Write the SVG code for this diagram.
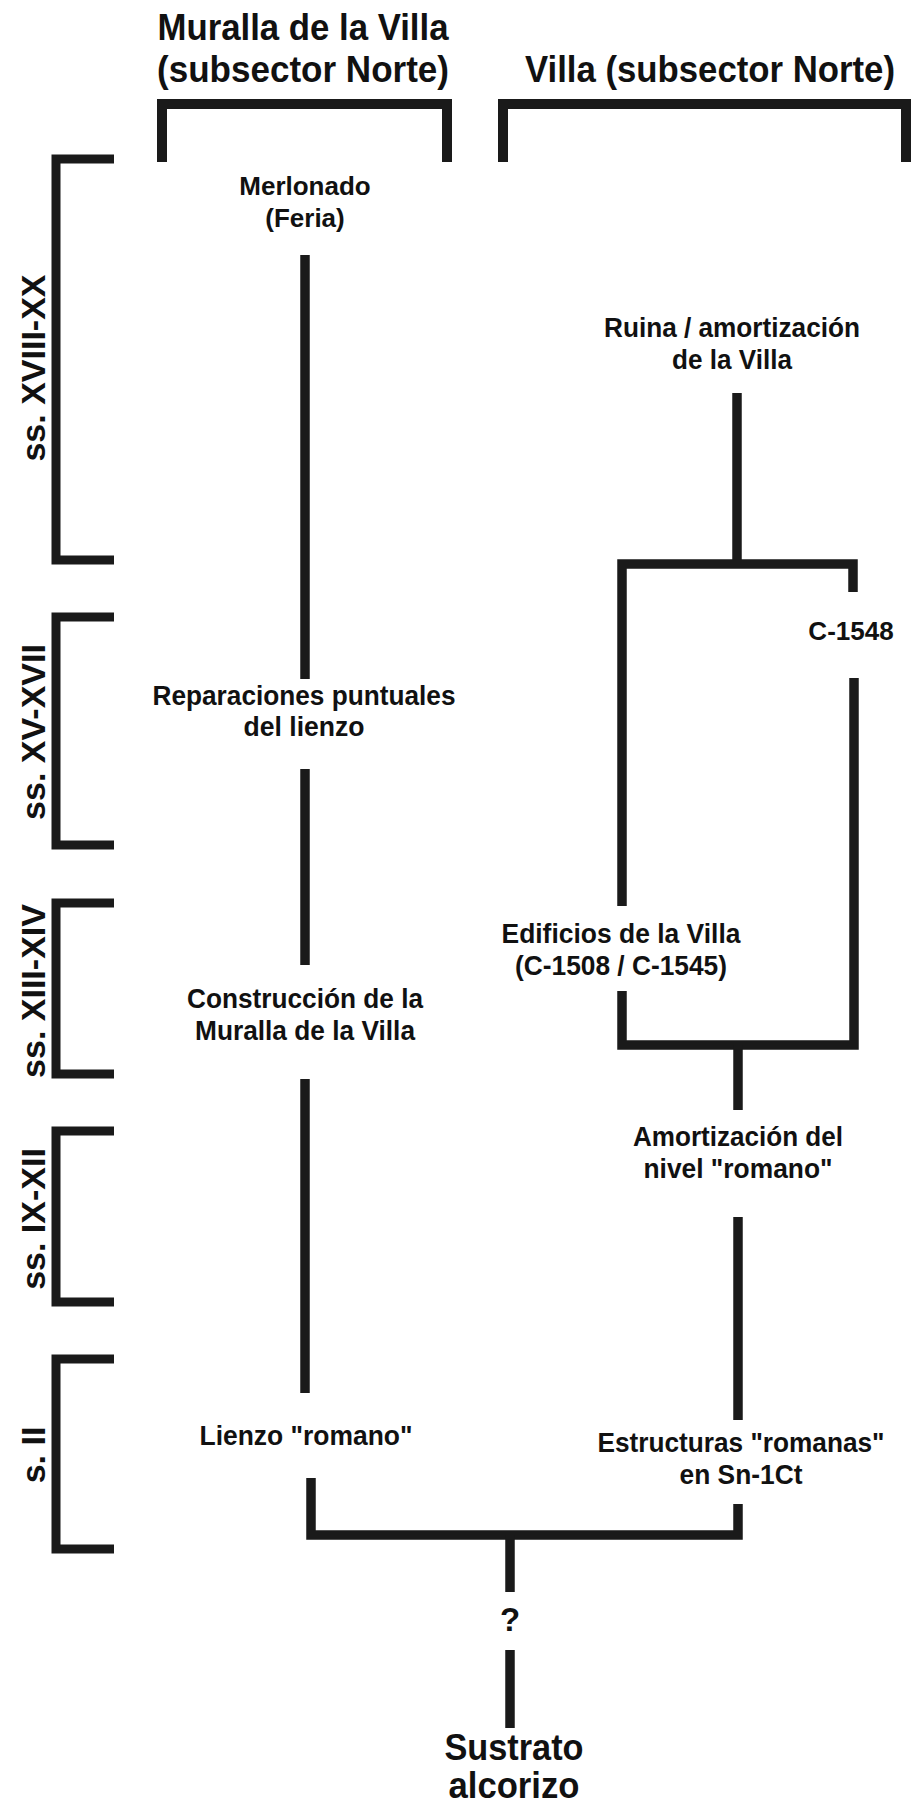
<svg xmlns="http://www.w3.org/2000/svg" width="911" height="1807" viewBox="0 0 911 1807">
<style>
text{font-family:"Liberation Sans",Arial,Helvetica,sans-serif;font-weight:bold;fill:#111;text-anchor:middle}
.t{font-size:36.5px}
.l{font-size:27.5px}
.s{font-size:26px}
.p{font-size:34px}
.big{font-size:36px}
.c{fill:none;stroke:#1a1a1a;stroke-width:9.5;stroke-linejoin:miter;stroke-linecap:butt}
.b{fill:none;stroke:#1a1a1a;stroke-width:10;stroke-linejoin:miter;stroke-linecap:butt}
.pb{fill:none;stroke:#1a1a1a;stroke-width:9;stroke-linejoin:miter;stroke-linecap:butt}
</style>
<rect width="911" height="1807" fill="#fff"/>

<g id="header-muralla">
<text class="t" x="303" y="40" textLength="291" lengthAdjust="spacingAndGlyphs">Muralla de la Villa</text>
<text class="t" x="303" y="82" textLength="292" lengthAdjust="spacingAndGlyphs">(subsector Norte)</text>
<path class="b" d="M162,162 V104 H447 V162"/>
</g>
<g id="header-villa">
<text class="t" x="710" y="82" textLength="370" lengthAdjust="spacingAndGlyphs">Villa (subsector Norte)</text>
<path class="b" d="M503,162 V104 H906 V162"/>
</g>

<g id="period-xviii-xx">
<path class="pb" d="M114,159 H56 V560 H114"/>
<text class="p" transform="translate(45,368) rotate(-90)">ss. XVIII-XX</text>
</g>
<g id="period-xv-xvii">
<path class="pb" d="M114,617 H56 V845 H114"/>
<text class="p" transform="translate(45,732) rotate(-90)">ss. XV-XVII</text>
</g>
<g id="period-xiii-xiv">
<path class="pb" d="M114,903 H56 V1074 H114"/>
<text class="p" transform="translate(45,991) rotate(-90)">ss. XIII-XIV</text>
</g>
<g id="period-ix-xii">
<path class="pb" d="M114,1131 H56 V1302 H114"/>
<text class="p" transform="translate(45,1219) rotate(-90)">ss. IX-XII</text>
</g>
<g id="period-ii">
<path class="pb" d="M114,1359 H56 V1549 H114"/>
<text class="p" transform="translate(45,1455) rotate(-90)">s. II</text>
</g>

<g id="connectors">
<path class="c" d="M305,255 V679"/>
<path class="c" d="M305,769 V965"/>
<path class="c" d="M305,1079 V1393"/>
<path class="c" d="M737,393 V564"/>
<path class="c" d="M622,906 V564 H853 V592"/>
<path class="c" d="M622,991 V1045 H854 V678"/>
<path class="c" d="M738,1045 V1110"/>
<path class="c" d="M738,1217 V1420"/>
<path class="c" d="M311,1478 V1535 H738 V1504"/>
<path class="c" d="M510,1535 V1592"/>
<path class="c" d="M510,1650 V1728"/>
</g>

<g id="node-merlonado">
<text class="s" x="305" y="195">Merlonado</text>
<text class="s" x="305" y="227">(Feria)</text>
</g>
<g id="node-reparaciones">
<text class="l" x="304" y="705" textLength="303" lengthAdjust="spacingAndGlyphs">Reparaciones puntuales</text>
<text class="l" x="304" y="736" textLength="121" lengthAdjust="spacingAndGlyphs">del lienzo</text>
</g>
<g id="node-construccion">
<text class="l" x="305" y="1008" textLength="236" lengthAdjust="spacingAndGlyphs">Construcción de la</text>
<text class="l" x="305" y="1040" textLength="220" lengthAdjust="spacingAndGlyphs">Muralla de la Villa</text>
</g>
<g id="node-lienzo">
<text class="l" x="306" y="1445" textLength="213" lengthAdjust="spacingAndGlyphs">Lienzo "romano"</text>
</g>
<g id="node-ruina">
<text class="l" x="732" y="337" textLength="256" lengthAdjust="spacingAndGlyphs">Ruina / amortización</text>
<text class="l" x="732" y="369" textLength="120" lengthAdjust="spacingAndGlyphs">de la Villa</text>
</g>
<g id="node-c1548">
<text class="s" x="851" y="640">C-1548</text>
</g>
<g id="node-edificios">
<text class="l" x="621" y="943" textLength="239" lengthAdjust="spacingAndGlyphs">Edificios de la Villa</text>
<text class="l" x="621" y="975" textLength="212" lengthAdjust="spacingAndGlyphs">(C-1508 / C-1545)</text>
</g>
<g id="node-amortizacion">
<text class="l" x="738" y="1146" textLength="210" lengthAdjust="spacingAndGlyphs">Amortización del</text>
<text class="l" x="738" y="1178" textLength="189" lengthAdjust="spacingAndGlyphs">nivel "romano"</text>
</g>
<g id="node-estructuras">
<text class="l" x="741" y="1452" textLength="287" lengthAdjust="spacingAndGlyphs">Estructuras "romanas"</text>
<text class="l" x="741" y="1484" textLength="123" lengthAdjust="spacingAndGlyphs">en Sn-1Ct</text>
</g>
<g id="node-question">
<text x="510" y="1631" style="font-size:33px">?</text>
</g>
<g id="node-sustrato">
<text class="big" x="514" y="1760" textLength="139" lengthAdjust="spacingAndGlyphs">Sustrato</text>
<text class="big" x="514" y="1798" textLength="131" lengthAdjust="spacingAndGlyphs">alcorizo</text>
</g>
</svg>
